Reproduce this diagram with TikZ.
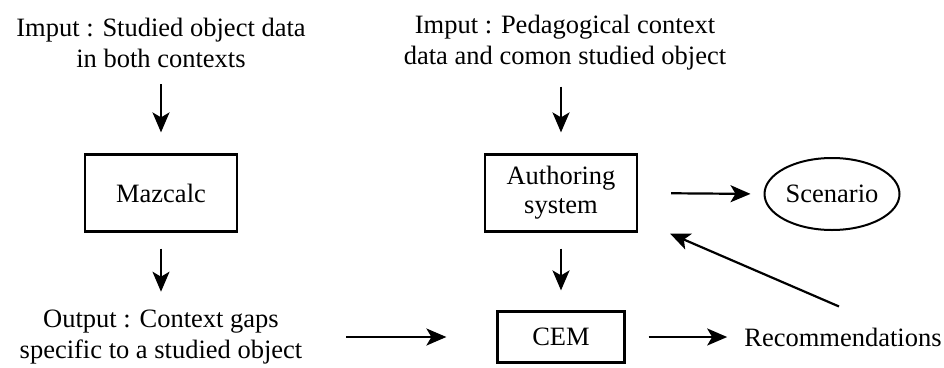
\documentclass[tikz,border=0pt]{standalone}
\usepackage{fontspec}
\setmainfont{Liberation Serif}
\usetikzlibrary{arrows.meta,shapes.geometric}
\begin{document}
\begin{tikzpicture}[x=1pt,y=-1pt,
  txt/.style={inner sep=0pt,align=center,font=\fontsize{26.5}{31}\selectfont},
  boxnode/.style={draw,line width=2.2pt,inner sep=0pt,align=center,font=\fontsize{26.5}{29}\selectfont},
  arr/.style={line width=2.2pt,-{Stealth[length=20pt,width=17pt,inset=5pt]}}]
\useasboundingbox[fill=white] (0,0) rectangle (944,367);
\node[txt] (in1) at (161,43) {Imput : Studied object data\\in both contexts};
\node[boxnode,minimum width=152pt,minimum height=77pt] (maz) at (161,193) {Mazcalc};
\node[txt] (out) at (161,337) {Output : Context gaps\\specific to a studied object};
\node[txt] (in2) at (565,43) {Imput : Pedagogical context\\data and comon studied object};
\node[boxnode,minimum width=152pt,minimum height=77pt] (auth) at (561,193) {Authoring\\system};
\node[boxnode,ellipse,minimum width=135pt,minimum height=72pt,line width=2pt] (scen) at (832,194) {Scenario};
\node[boxnode,minimum width=127pt,minimum height=51pt] (cem) at (561,337) {CEM};
\node[txt] (rec) at (843,337) {Recommendations};
\draw[arr,shorten <=16pt,shorten >=21pt] (in1.south) -- (maz.north);
\draw[arr,shorten <=16pt,shorten >=18pt] (maz.south) -- (maz.south|-out.north);
\draw[arr,shorten <=16pt,shorten >=21pt] (in2.south-|auth.north) -- (auth.north);
\draw[arr,shorten <=16pt,shorten >=20pt] (auth.south) -- (cem.north);
\draw[arr,shorten <=33pt,shorten >=13pt] (auth.east) -- (scen.west);
\draw[arr,shorten <=23pt,shorten >=17pt] (cem.east) -- (rec.west);
\draw[arr,shorten <=44pt,shorten >=50pt] (out.east) -- (cem.west);
\draw[arr] ([xshift=-4pt,yshift=21pt]rec.north) -- ([xshift=32pt,yshift=-1pt]auth.south east);
\end{tikzpicture}
\end{document}
